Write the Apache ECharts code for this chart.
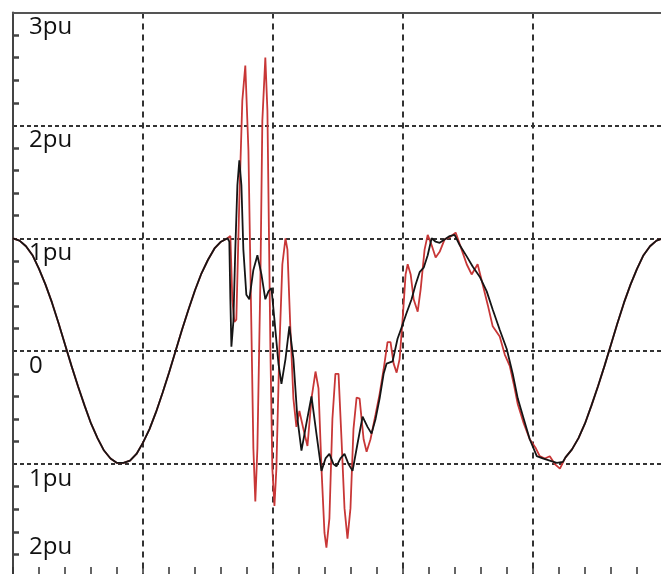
<!DOCTYPE html>
<html>
<head>
<meta charset="utf-8">
<script src="https://cdn.jsdelivr.net/npm/echarts/dist/echarts.min.js"></script>
<style>
  html, body { margin: 0; padding: 0; background: #fff; }
  #main { width: 661px; height: 574px; }
</style>
</head>
<body>
<div id="main"></div>
<script>
// time in ms, voltage in pu
const headTime = [0, 0.5, 1, 1.5, 2, 2.5, 3, 3.5, 4, 4.5, 5, 5.5, 6, 6.5, 7, 7.5, 8, 8.5, 9, 9.5, 10, 10.5, 11, 11.5, 12, 12.5, 13, 13.5, 14, 14.5, 15, 15.5, 16];
const headVolt = [1.00, 0.98, 0.93, 0.85, 0.73, 0.59, 0.43, 0.25, 0.06, -0.13, -0.31, -0.48, -0.64, -0.77, -0.88, -0.95, -0.99, -0.99, -0.97, -0.91, -0.81, -0.69, -0.54, -0.37, -0.19, 0.00, 0.19, 0.37, 0.54, 0.69, 0.81, 0.91, 0.97];

const blackTime = [16.5, 16.64, 16.72, 16.8, 16.95, 17.1, 17.26, 17.41, 17.57, 17.72, 17.95, 18.18, 18.49, 18.8, 19.11, 19.41, 19.65, 19.88, 20.11, 20.42, 20.65, 20.96, 21.26, 21.57, 21.88, 22.19, 22.57, 22.96, 23.34, 23.73, 24.04, 24.34, 24.65, 24.88, 25.19, 25.5, 25.81, 26.12, 26.5, 26.89, 27.27, 27.58, 27.89, 28.2, 28.51, 28.74, 29.2, 29.58, 29.89, 30.28, 30.66, 30.97, 31.28, 31.59, 31.9, 32.2, 32.51, 32.82, 33.2, 33.59, 33.97, 34.36, 34.9, 35.36, 35.9, 36.44, 36.9, 37.44, 37.98, 38.44, 38.83, 39.29, 39.75, 40.29, 40.75, 41.29, 41.83, 42.3];
const blackVolt = [1.00, 0.97, 0.46, 0.04, 0.26, 0.90, 1.47, 1.69, 1.47, 0.90, 0.50, 0.46, 0.72, 0.85, 0.68, 0.46, 0.53, 0.56, 0.28, -0.11, -0.29, -0.07, 0.22, -0.07, -0.60, -0.88, -0.64, -0.40, -0.73, -1.06, -0.95, -0.91, -1.00, -1.02, -0.95, -0.91, -1.00, -1.06, -0.82, -0.58, -0.67, -0.73, -0.60, -0.42, -0.20, -0.11, -0.09, 0.11, 0.21, 0.34, 0.46, 0.59, 0.70, 0.74, 0.85, 1.00, 0.97, 0.96, 0.99, 1.02, 1.03, 0.94, 0.84, 0.75, 0.66, 0.53, 0.37, 0.19, 0.02, -0.20, -0.42, -0.60, -0.78, -0.93, -0.95, -0.97, -0.99, -0.98];

const redTime = [16.5, 16.72, 16.87, 17.03, 17.18, 17.41, 17.64, 17.87, 18.11, 18.34, 18.49, 18.64, 18.8, 19.03, 19.18, 19.41, 19.57, 19.8, 19.95, 20.11, 20.26, 20.49, 20.72, 20.96, 21.11, 21.34, 21.57, 21.8, 22.03, 22.34, 22.65, 22.96, 23.27, 23.5, 23.73, 23.96, 24.11, 24.34, 24.57, 24.8, 25.04, 25.27, 25.5, 25.73, 25.96, 26.19, 26.43, 26.66, 26.97, 27.2, 27.5, 27.89, 28.2, 28.51, 28.81, 29.04, 29.28, 29.51, 29.74, 29.97, 30.2, 30.36, 30.59, 30.82, 31.13, 31.36, 31.66, 31.9, 32.2, 32.51, 32.82, 33.2, 33.59, 34.05, 34.51, 34.9, 35.28, 35.74, 36.13, 36.52, 36.9, 37.44, 37.83, 38.21, 38.52, 38.83, 39.29, 39.75, 40.22, 40.52, 40.91, 41.29, 41.68, 42.07];
const redVolt = [1.00, 1.02, 0.46, 0.26, 0.28, 1.34, 2.22, 2.53, 1.78, 0.19, -0.86, -1.33, -0.86, 0.63, 2.04, 2.60, 2.13, 0.02, -1.04, -1.37, -1.04, 0.02, 0.77, 1.00, 0.90, 0.19, -0.42, -0.67, -0.53, -0.69, -0.84, -0.42, -0.18, -0.33, -1.04, -1.61, -1.74, -1.48, -0.60, -0.20, -0.20, -0.78, -1.39, -1.66, -1.39, -0.69, -0.41, -0.42, -0.78, -0.89, -0.78, -0.56, -0.38, -0.16, 0.08, 0.08, -0.11, -0.19, -0.07, 0.28, 0.68, 0.77, 0.68, 0.46, 0.35, 0.55, 0.90, 1.03, 0.94, 0.83, 0.88, 0.99, 1.01, 1.05, 0.90, 0.77, 0.68, 0.77, 0.59, 0.41, 0.22, 0.13, -0.03, -0.13, -0.29, -0.47, -0.64, -0.78, -0.86, -0.93, -0.95, -0.93, -1.00, -1.04];

const tailTime = [42.5, 43, 43.5, 44, 44.5, 45, 45.5, 46, 46.5, 47, 47.5, 48, 48.5, 49, 49.5, 50];
const tailVolt = [-0.94, -0.87, -0.77, -0.64, -0.48, -0.31, -0.13, 0.06, 0.25, 0.43, 0.59, 0.73, 0.85, 0.93, 0.98, 1.00];

const tickValues = [3, 2, 1, 0, -1, -2];
const tickLabels = ['3pu', '2pu', '1pu', '0', '1pu', '2pu'];

function pairs(ts, vs) {
  return ts.map((t, i) => [t, vs[i]]);
}

const blackData = pairs(headTime, headVolt).concat(pairs(blackTime, blackVolt), pairs(tailTime, tailVolt));
const redData = pairs(headTime, headVolt).concat(pairs(redTime, redVolt), pairs(tailTime, tailVolt));

const chart = echarts.init(document.getElementById('main'));

const gridColor = '#333';

chart.setOption({
  animation: false,
  backgroundColor: '#fff',
  grid: {
    left: 13,
    right: -2,
    top: 12.5,
    bottom: -3,
    containLabel: false,
    outerBoundsMode: 'none'
  },
  xAxis: [
    {
      type: 'value',
      min: 0,
      max: 50,
      interval: 10,
      axisLine: { show: false, onZero: false },
      axisLabel: { show: false },
      axisTick: { show: true, inside: true, length: 10, lineStyle: { color: gridColor, width: 1.5 } },
      minorTick: { show: true, splitNumber: 5, length: 10, lineStyle: { color: gridColor, width: 1.5 } },
      splitLine: { show: true, lineStyle: { color: gridColor, width: 2, type: [6, 5] } }
    },
    {
      type: 'value',
      position: 'top',
      min: 0,
      max: 50,
      axisLine: { show: true, onZero: false, lineStyle: { color: '#555', width: 2 } },
      axisLabel: { show: false },
      axisTick: { show: false },
      splitLine: { show: false }
    }
  ],
  yAxis: {
    type: 'value',
    min: -2,
    max: 3,
    interval: 1,
    axisLine: { show: true, lineStyle: { color: '#444', width: 2 } },
    axisLabel: { show: false },
    axisTick: { show: false, inside: true, length: 6 },
    minorTick: { show: true, splitNumber: 5, length: 6, lineStyle: { color: '#444', width: 2.5 } },
    splitLine: { show: true, lineStyle: { color: gridColor, width: 2, type: [4, 3] } }
  },
  series: [
    {
      name: 'red',
      type: 'line',
      showSymbol: false,
      data: redData,
      lineStyle: { color: '#c83737', width: 1.8 },
      z: 2
    },
    {
      name: 'black',
      type: 'line',
      showSymbol: false,
      data: blackData,
      lineStyle: { color: '#151515', width: 1.8 },
      z: 3
    }
  ]
});

// axis labels sit just below their gridline (last one above, the line is off canvas)
const h = chart.getHeight();
const labels = tickValues.map((v, i) => {
  const py = chart.convertToPixel({ yAxisIndex: 0 }, v);
  const y = py + 30 > h ? py - 29 : py + 16;
  return {
    type: 'text',
    left: 29,
    top: y - 13,
    z: 10,
    style: {
      text: tickLabels[i],
      fill: '#111',
      font: '24px "Open Sans", sans-serif'
    }
  };
});
chart.setOption({ graphic: labels });
</script>
</body>
</html>
